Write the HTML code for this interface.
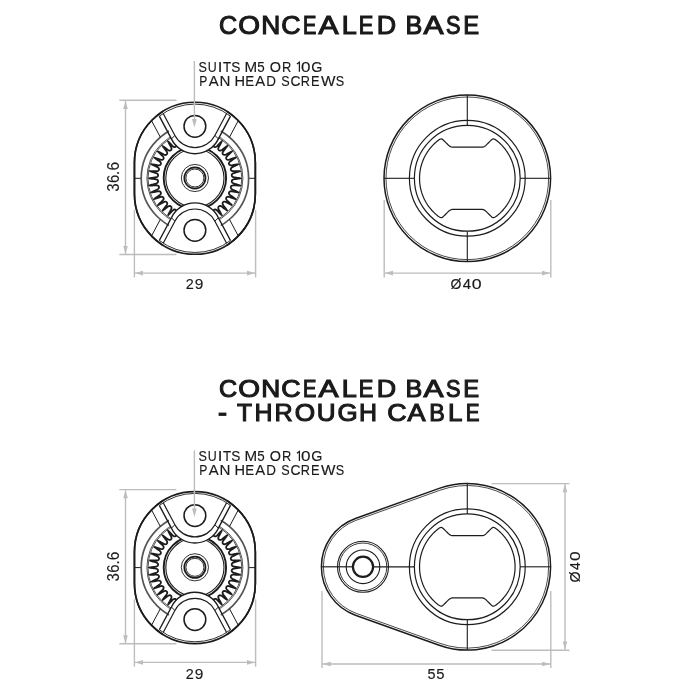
<!DOCTYPE html>
<html><head><meta charset="utf-8"><style>
html,body{margin:0;padding:0;background:#fff;}
svg{display:block;font-family:"Liberation Sans",sans-serif;}
</style></head><body>
<svg width="700" height="700" viewBox="0 0 700 700">
<rect width="700" height="700" fill="#fff"/>
<g transform="translate(194.9 178.3)"><path d="M-60.45 -15.55 A60.45 60.45 0 0 1 60.45 -15.55 L60.45 15.55 A60.45 60.45 0 0 1 -60.45 15.55 Z" fill="#fff" stroke="#1c1c1c" stroke-width="1.7"/><line x1="-60.45" y1="0" x2="-53.7" y2="0" stroke="#1c1c1c" stroke-width="1.0"/><line x1="60.45" y1="0" x2="53.7" y2="0" stroke="#1c1c1c" stroke-width="1.0"/><circle cx="0" cy="0" r="53.7" fill="none" stroke="#555" stroke-width="1.7"/><circle cx="0" cy="0" r="48" fill="none" stroke="#555" stroke-width="1.0"/><circle cx="0" cy="0" r="46.9" fill="none" stroke="#555" stroke-width="1.0"/><path d="M45.46 0 L45.13 0.12 L44.42 0.25 L43.63 0.36 L42.84 0.48 L42.04 0.59 L41.25 0.69 L40.46 0.79 L39.66 0.89 L38.87 1.01 L38.12 1.23 L37.47 1.63 L37.01 2.22 L36.81 2.94 L36.93 3.68 L37.32 4.32 L37.92 4.79 L38.64 5.11 L39.4 5.35 L40.17 5.57 L40.94 5.79 L41.7 6.02 L42.47 6.25 L43.23 6.49 L43.99 6.73 L44.65 6.96 L44.88 7.12 L44.48 7.19 L43.74 7.19 L42.94 7.18 L42.14 7.17 L41.34 7.15 L40.54 7.13 L39.74 7.11 L38.94 7.08 L38.15 7.08 L37.38 7.2 L36.68 7.52 L36.16 8.05 L35.88 8.74 L35.92 9.49 L36.23 10.17 L36.77 10.72 L37.44 11.14 L38.16 11.49 L38.88 11.82 L39.61 12.17 L40.33 12.51 L41.05 12.86 L41.77 13.21 L42.47 13.57 L43.07 13.89 L43.2 14.07 L42.74 14.05 L41.99 13.93 L41.2 13.8 L40.41 13.66 L39.63 13.52 L38.84 13.37 L38.05 13.22 L37.27 13.07 L36.48 12.96 L35.7 12.97 L34.98 13.2 L34.4 13.67 L34.05 14.33 L34 15.08 L34.24 15.79 L34.7 16.4 L35.31 16.91 L35.97 17.36 L36.63 17.81 L37.29 18.26 L37.95 18.72 L38.6 19.18 L39.26 19.64 L39.9 20.1 L40.4 20.49 L40.44 20.65 L39.94 20.54 L39.21 20.3 L38.45 20.04 L37.69 19.78 L36.94 19.52 L36.18 19.25 L35.43 18.98 L34.68 18.71 L33.92 18.48 L33.15 18.4 L32.4 18.54 L31.77 18.94 L31.35 19.56 L31.22 20.29 L31.37 21.03 L31.76 21.7 L32.29 22.29 L32.87 22.84 L33.46 23.38 L34.04 23.93 L34.62 24.49 L35.19 25.04 L35.77 25.6 L36.32 26.15 L36.73 26.6 L36.68 26.72 L36.16 26.5 L35.47 26.14 L34.76 25.77 L34.06 25.4 L33.35 25.02 L32.65 24.63 L31.95 24.25 L31.25 23.86 L30.53 23.53 L29.78 23.34 L29.02 23.4 L28.35 23.73 L27.87 24.3 L27.65 25.01 L27.72 25.77 L28.02 26.48 L28.46 27.14 L28.95 27.77 L29.44 28.4 L29.93 29.04 L30.42 29.67 L30.9 30.31 L31.38 30.95 L31.83 31.58 L32.13 32.05 L32.01 32.11 L31.5 31.78 L30.87 31.32 L30.23 30.84 L29.59 30.36 L28.96 29.87 L28.32 29.38 L27.69 28.89 L27.06 28.4 L26.39 27.97 L25.67 27.7 L24.92 27.66 L24.21 27.91 L23.67 28.42 L23.38 29.11 L23.36 29.87 L23.57 30.62 L23.91 31.33 L24.29 32.04 L24.68 32.74 L25.06 33.44 L25.44 34.14 L25.82 34.85 L26.19 35.56 L26.53 36.24 L26.73 36.72 L26.56 36.69 L26.08 36.26 L25.53 35.7 L24.97 35.12 L24.42 34.55 L23.86 33.97 L23.32 33.38 L22.77 32.8 L22.22 32.22 L21.62 31.7 L20.94 31.34 L20.2 31.22 L19.47 31.39 L18.88 31.84 L18.51 32.49 L18.4 33.24 L18.51 34.02 L18.74 34.77 L19.01 35.53 L19.29 36.28 L19.55 37.03 L19.82 37.79 L20.08 38.55 L20.33 39.3 L20.56 40.02 L20.65 40.47 L20.45 40.36 L20.04 39.82 L19.58 39.18 L19.12 38.52 L18.66 37.87 L18.21 37.21 L17.76 36.55 L17.31 35.88 L16.85 35.23 L16.33 34.64 L15.71 34.19 L14.98 33.99 L14.24 34.08 L13.6 34.46 L13.16 35.06 L12.96 35.8 L12.97 36.58 L13.09 37.37 L13.24 38.15 L13.39 38.94 L13.54 39.72 L13.68 40.51 L13.82 41.3 L13.95 42.09 L14.06 42.82 L14.06 43.22 L13.86 43.01 L13.53 42.39 L13.17 41.68 L12.82 40.96 L12.47 40.24 L12.12 39.52 L11.78 38.79 L11.44 38.07 L11.09 37.35 L10.66 36.7 L10.09 36.18 L9.4 35.89 L8.65 35.9 L7.98 36.21 L7.47 36.76 L7.18 37.47 L7.08 38.25 L7.08 39.04 L7.11 39.84 L7.14 40.64 L7.16 41.44 L7.17 42.24 L7.19 43.04 L7.19 43.84 L7.18 44.56 L7.11 44.9 L6.93 44.58 L6.7 43.9 L6.46 43.14 L6.23 42.37 L5.99 41.61 L5.77 40.84 L5.54 40.07 L5.32 39.3 L5.08 38.54 L4.74 37.84 L4.24 37.26 L3.59 36.9 L2.85 36.82 L2.14 37.05 L1.57 37.54 L1.19 38.21 L0.99 38.97 L0.88 39.76 L0.78 40.55 L0.68 41.35 L0.57 42.14 L0.46 42.93 L0.35 43.73 L0.23 44.51 L0.11 45.2 L-0.02 45.45 L-0.14 45.05 L-0.26 44.32 L-0.38 43.53 L-0.49 42.74 L-0.6 41.94 L-0.7 41.15 L-0.8 40.36 L-0.9 39.56 L-1.03 38.78 L-1.27 38.03 L-1.69 37.4 L-2.31 36.97 L-3.03 36.81 L-3.76 36.96 L-4.39 37.39 L-4.84 38.01 L-5.14 38.73 L-5.38 39.5 L-5.6 40.26 L-5.82 41.03 L-6.05 41.8 L-6.28 42.56 L-6.52 43.33 L-6.76 44.08 L-6.99 44.71 L-7.14 44.87 L-7.19 44.4 L-7.19 43.64 L-7.18 42.84 L-7.17 42.04 L-7.15 41.24 L-7.13 40.44 L-7.1 39.64 L-7.08 38.84 L-7.09 38.05 L-7.23 37.28 L-7.57 36.61 L-8.13 36.11 L-8.84 35.87 L-9.58 35.94 L-10.25 36.29 L-10.78 36.85 L-11.18 37.53 L-11.53 38.25 L-11.87 38.97 L-12.21 39.7 L-12.55 40.42 L-12.9 41.14 L-13.26 41.86 L-13.61 42.56 L-13.92 43.11 L-14.07 43.17 L-14.03 42.65 L-13.91 41.89 L-13.78 41.1 L-13.64 40.32 L-13.5 39.53 L-13.35 38.74 L-13.2 37.96 L-13.05 37.17 L-12.95 36.38 L-12.99 35.61 L-13.25 34.9 L-13.75 34.34 L-14.42 34.03 L-15.17 34.01 L-15.88 34.28 L-16.47 34.77 L-16.97 35.39 L-17.42 36.05 L-17.87 36.71 L-18.32 37.37 L-18.77 38.03 L-19.23 38.69 L-19.7 39.34 L-20.15 39.97 L-20.53 40.44 L-20.65 40.41 L-20.51 39.85 L-20.27 39.11 L-20.01 38.36 L-19.75 37.6 L-19.49 36.84 L-19.22 36.09 L-18.95 35.34 L-18.68 34.59 L-18.46 33.82 L-18.4 33.05 L-18.58 32.32 L-19.01 31.71 L-19.65 31.32 L-20.39 31.22 L-21.12 31.41 L-21.78 31.82 L-22.36 32.37 L-22.91 32.95 L-23.45 33.53 L-24 34.11 L-24.56 34.69 L-25.11 35.27 L-25.67 35.84 L-26.22 36.39 L-26.64 36.75 L-26.71 36.64 L-26.45 36.08 L-26.1 35.38 L-25.72 34.67 L-25.35 33.97 L-24.97 33.26 L-24.58 32.56 L-24.2 31.86 L-23.82 31.16 L-23.5 30.44 L-23.34 29.68 L-23.43 28.93 L-23.79 28.28 L-24.38 27.83 L-25.11 27.65 L-25.86 27.74 L-26.56 28.07 L-27.22 28.52 L-27.85 29.01 L-28.48 29.5 L-29.11 29.99 L-29.75 30.48 L-30.39 30.96 L-31.03 31.43 L-31.65 31.88 L-32.09 32.14 L-32.09 31.96 L-31.72 31.43 L-31.26 30.79 L-30.78 30.15 L-30.3 29.51 L-29.81 28.88 L-29.32 28.24 L-28.83 27.61 L-28.35 26.98 L-27.93 26.31 L-27.68 25.58 L-27.68 24.82 L-27.96 24.14 L-28.5 23.62 L-29.21 23.36 L-29.97 23.37 L-30.71 23.6 L-31.42 23.96 L-32.12 24.34 L-32.82 24.73 L-33.53 25.11 L-34.23 25.49 L-34.94 25.86 L-35.65 26.23 L-36.32 26.57 L-36.75 26.73 L-36.66 26.51 L-36.19 26.02 L-35.62 25.46 L-35.05 24.9 L-34.47 24.35 L-33.89 23.8 L-33.31 23.25 L-32.73 22.7 L-32.15 22.15 L-31.65 21.54 L-31.31 20.85 L-31.23 20.1 L-31.43 19.39 L-31.91 18.82 L-32.58 18.48 L-33.34 18.4 L-34.11 18.53 L-34.87 18.78 L-35.62 19.05 L-36.37 19.32 L-37.13 19.59 L-37.88 19.85 L-38.64 20.11 L-39.4 20.36 L-40.1 20.58 L-40.49 20.64 L-40.3 20.41 L-39.74 19.98 L-39.1 19.52 L-38.44 19.06 L-37.78 18.6 L-37.13 18.15 L-36.46 17.7 L-35.8 17.25 L-35.15 16.79 L-34.57 16.26 L-34.15 15.62 L-33.98 14.89 L-34.11 14.15 L-34.52 13.53 L-35.15 13.12 L-35.9 12.95 L-36.68 12.98 L-37.46 13.11 L-38.25 13.26 L-39.04 13.41 L-39.82 13.55 L-40.61 13.7 L-41.4 13.83 L-42.18 13.96 L-42.89 14.07 L-43.23 14.04 L-42.94 13.82 L-42.3 13.48 L-41.59 13.13 L-40.87 12.77 L-40.15 12.42 L-39.43 12.08 L-38.7 11.74 L-37.98 11.4 L-37.27 11.04 L-36.62 10.6 L-36.13 10.01 L-35.88 9.3 L-35.92 8.56 L-36.27 7.9 L-36.84 7.42 L-37.56 7.16 L-38.35 7.08 L-39.14 7.09 L-39.94 7.12 L-40.74 7.14 L-41.54 7.16 L-42.34 7.18 L-43.14 7.19 L-43.94 7.19 L-44.63 7.18 L-44.89 7.09 L-44.51 6.91 L-43.8 6.67 L-43.04 6.43 L-42.28 6.2 L-41.51 5.97 L-40.74 5.74 L-39.98 5.52 L-39.21 5.29 L-38.45 5.04 L-37.76 4.69 L-37.2 4.17 L-36.87 3.5 L-36.83 2.75 L-37.1 2.06 L-37.62 1.51 L-38.3 1.16 L-39.07 0.98 L-39.86 0.87 L-40.65 0.77 L-41.45 0.67 L-42.24 0.56 L-43.03 0.45 L-43.83 0.34 L-44.61 0.22 L-45.26 0.09 L-45.43 -0.03 L-44.97 -0.16 L-44.22 -0.28 L-43.43 -0.39 L-42.64 -0.51 L-41.84 -0.61 L-41.05 -0.72 L-40.26 -0.82 L-39.46 -0.92 L-38.68 -1.05 L-37.95 -1.31 L-37.33 -1.76 L-36.93 -2.39 L-36.81 -3.13 L-37 -3.85 L-37.45 -4.45 L-38.09 -4.89 L-38.83 -5.18 L-39.59 -5.41 L-40.36 -5.63 L-41.13 -5.85 L-41.89 -6.08 L-42.66 -6.31 L-43.42 -6.55 L-44.17 -6.79 L-44.77 -7.01 L-44.84 -7.15 L-44.31 -7.19 L-43.54 -7.19 L-42.74 -7.18 L-41.94 -7.17 L-41.14 -7.15 L-40.34 -7.13 L-39.54 -7.1 L-38.74 -7.08 L-37.95 -7.1 L-37.19 -7.26 L-36.53 -7.63 L-36.06 -8.21 L-35.86 -8.93 L-35.97 -9.67 L-36.35 -10.32 L-36.93 -10.83 L-37.62 -11.23 L-38.34 -11.57 L-39.06 -11.91 L-39.79 -12.25 L-40.51 -12.6 L-41.23 -12.95 L-41.95 -13.3 L-42.64 -13.66 L-43.16 -13.95 L-43.14 -14.08 L-42.56 -14.02 L-41.79 -13.9 L-41 -13.76 L-40.22 -13.63 L-39.43 -13.48 L-38.64 -13.33 L-37.86 -13.18 L-37.07 -13.04 L-36.29 -12.94 L-35.51 -13 L-34.82 -13.3 L-34.28 -13.82 L-34.01 -14.51 L-34.03 -15.26 L-34.33 -15.96 L-34.85 -16.54 L-35.47 -17.02 L-36.13 -17.48 L-36.79 -17.92 L-37.46 -18.38 L-38.11 -18.83 L-38.77 -19.29 L-39.42 -19.75 L-40.05 -20.21 L-40.47 -20.56 L-40.36 -20.65 L-39.76 -20.48 L-39.02 -20.24 L-38.26 -19.98 L-37.51 -19.72 L-36.75 -19.45 L-36 -19.18 L-35.24 -18.91 L-34.49 -18.65 L-33.73 -18.44 L-32.96 -18.41 L-32.23 -18.62 L-31.64 -19.08 L-31.29 -19.74 L-31.23 -20.48 L-31.45 -21.21 L-31.89 -21.85 L-32.44 -22.43 L-33.02 -22.97 L-33.6 -23.52 L-34.18 -24.07 L-34.76 -24.62 L-35.34 -25.18 L-35.91 -25.74 L-36.45 -26.28 L-36.77 -26.67 L-36.58 -26.69 L-35.99 -26.41 L-35.29 -26.05 L-34.59 -25.68 L-33.88 -25.3 L-33.18 -24.92 L-32.47 -24.54 L-31.77 -24.15 L-31.07 -23.77 L-30.34 -23.46 L-29.59 -23.33 L-28.84 -23.46 L-28.21 -23.85 L-27.79 -24.46 L-27.64 -25.2 L-27.77 -25.95 L-28.12 -26.65 L-28.58 -27.3 L-29.07 -27.93 L-29.57 -28.56 L-30.05 -29.19 L-30.54 -29.83 L-31.02 -30.47 L-31.49 -31.11 L-31.93 -31.72 L-32.15 -32.11 L-31.91 -32.05 L-31.35 -31.67 L-30.71 -31.2 L-30.07 -30.72 L-29.43 -30.23 L-28.8 -29.75 L-28.16 -29.26 L-27.53 -28.77 L-26.9 -28.29 L-26.22 -27.89 L-25.49 -27.66 L-24.73 -27.7 L-24.06 -28.02 L-23.58 -28.58 L-23.35 -29.3 L-23.39 -30.06 L-23.64 -30.8 L-24 -31.51 L-24.39 -32.21 L-24.78 -32.91 L-25.16 -33.62 L-25.54 -34.32 L-25.91 -35.03 L-26.28 -35.74 L-26.61 -36.39 L-26.72 -36.76 L-26.46 -36.61 L-25.95 -36.12 L-25.39 -35.55 L-24.83 -34.98 L-24.28 -34.4 L-23.73 -33.82 L-23.18 -33.24 L-22.63 -32.65 L-22.07 -32.09 L-21.46 -31.59 L-20.76 -31.29 L-20.01 -31.24 L-19.31 -31.48 L-18.76 -31.99 L-18.46 -32.67 L-18.4 -33.44 L-18.56 -34.21 L-18.81 -34.96 L-19.08 -35.71 L-19.35 -36.47 L-19.62 -37.22 L-19.88 -37.98 L-20.14 -38.74 L-20.39 -39.49 L-20.6 -40.17 L-20.63 -40.5 L-20.36 -40.25 L-19.93 -39.66 L-19.46 -39.01 L-19 -38.36 L-18.55 -37.7 L-18.09 -37.04 L-17.64 -36.38 L-17.2 -35.72 L-16.73 -35.07 L-16.19 -34.51 L-15.53 -34.12 L-14.79 -33.98 L-14.07 -34.15 L-13.47 -34.59 L-13.09 -35.24 L-12.94 -35.99 L-12.99 -36.78 L-13.13 -37.56 L-13.28 -38.35 L-13.43 -39.13 L-13.57 -39.92 L-13.71 -40.71 L-13.85 -41.5 L-13.98 -42.28 L-14.07 -42.96 L-14.02 -43.22 L-13.78 -42.87 L-13.44 -42.21 L-13.08 -41.5 L-12.73 -40.78 L-12.38 -40.06 L-12.04 -39.34 L-11.7 -38.61 L-11.36 -37.89 L-10.99 -37.18 L-10.53 -36.55 L-9.93 -36.08 L-9.21 -35.87 L-8.47 -35.95 L-7.83 -36.33 L-7.37 -36.93 L-7.14 -37.66 L-7.08 -38.45 L-7.09 -39.24 L-7.12 -40.04 L-7.14 -40.84 L-7.16 -41.64 L-7.18 -42.44 L-7.19 -43.24 L-7.19 -44.03 L-7.17 -44.7 L-7.07 -44.88 L-6.88 -44.43 L-6.64 -43.71 L-6.4 -42.95 L-6.17 -42.18 L-5.94 -41.42 L-5.71 -40.65 L-5.49 -39.88 L-5.26 -39.11 L-5.01 -38.36 L-4.64 -37.68 L-4.09 -37.14 L-3.4 -36.85 L-2.66 -36.85 L-1.98 -37.15 L-1.46 -37.7 L-1.13 -38.4 L-0.96 -39.17 L-0.85 -39.96 L-0.76 -40.75 L-0.65 -41.55 L-0.55 -42.34 L-0.44 -43.13 L-0.32 -43.92 L-0.2 -44.7 L-0.08 -45.32 L0.05 -45.4 L0.17 -44.88 L0.29 -44.12 L0.41 -43.33 L0.52 -42.54 L0.63 -41.75 L0.73 -40.95 L0.83 -40.16 L0.93 -39.36 L1.08 -38.59 L1.36 -37.86 L1.83 -37.27 L2.48 -36.9 L3.22 -36.82 L3.93 -37.04 L4.52 -37.53 L4.93 -38.18 L5.21 -38.92 L5.43 -39.69 L5.65 -40.46 L5.88 -41.22 L6.11 -41.99 L6.34 -42.76 L6.58 -43.52 L6.82 -44.26 L7.03 -44.81 L7.16 -44.8 L7.19 -44.22 L7.19 -43.44 L7.18 -42.64 L7.17 -41.84 L7.15 -41.04 L7.12 -40.24 L7.1 -39.44 L7.08 -38.64 L7.11 -37.85 L7.29 -37.1 L7.69 -36.46 L8.3 -36.02 L9.02 -35.86 L9.76 -36 L10.4 -36.41 L10.89 -37.01 L11.27 -37.71 L11.61 -38.43 L11.95 -39.15 L12.29 -39.88 L12.64 -40.6 L12.99 -41.32 L13.35 -42.03 L13.7 -42.72 L13.98 -43.19 L14.08 -43.08 L14.01 -42.47 L13.88 -41.69 L13.75 -40.91 L13.61 -40.12 L13.46 -39.33 L13.32 -38.54 L13.16 -37.76 L13.02 -36.97 L12.94 -36.19 L13.03 -35.42 L13.35 -34.74 L13.9 -34.23 L14.61 -33.99 L15.35 -34.06 L16.04 -34.39 L16.6 -34.92 L17.08 -35.55 L17.53 -36.22 L17.98 -36.88 L18.43 -37.54 L18.89 -38.2 L19.35 -38.85 L19.81 -39.5 L20.26 -40.12 L20.59 -40.49 L20.64 -40.3 L20.45 -39.67 L20.2 -38.92 L19.95 -38.17 L19.69 -37.41 L19.42 -36.66 L19.15 -35.9 L18.88 -35.15 L18.62 -34.4 L18.43 -33.63 L18.42 -32.86 L18.66 -32.15 L19.15 -31.58 L19.83 -31.27 L20.58 -31.25 L21.3 -31.5 L21.93 -31.95 L22.5 -32.51 L23.04 -33.09 L23.59 -33.68 L24.14 -34.26 L24.69 -34.83 L25.25 -35.41 L25.81 -35.98 L26.34 -36.51 L26.69 -36.78 L26.66 -36.53 L26.37 -35.91 L26 -35.2 L25.63 -34.5 L25.25 -33.79 L24.87 -33.09 L24.49 -32.39 L24.1 -31.69 L23.73 -30.98 L23.44 -30.25 L23.34 -29.49 L23.49 -28.75 L23.92 -28.14 L24.55 -27.75 L25.3 -27.65 L26.04 -27.81 L26.73 -28.18 L27.38 -28.64 L28.01 -29.14 L28.64 -29.63 L29.27 -30.11 L29.91 -30.6 L30.55 -31.08 L31.19 -31.55 L31.79 -31.98 L32.13 -32.14 L32.02 -31.85 L31.61 -31.27 L31.14 -30.63 L30.66 -29.99 L30.17 -29.35 L29.69 -28.72 L29.2 -28.09 L28.71 -27.45 L28.23 -26.81 L27.84 -26.13 L27.65 -25.39 L27.72 -24.64 L28.08 -23.99 L28.67 -23.53 L29.39 -23.34 L30.16 -23.41 L30.89 -23.68 L31.6 -24.05 L32.3 -24.44 L33 -24.82 L33.7 -25.21 L34.41 -25.58 L35.12 -25.96 L35.82 -26.32 L36.46 -26.64 L36.78 -26.71 L36.56 -26.4 L36.05 -25.88 L35.48 -25.32 L34.91 -24.76 L34.33 -24.21 L33.75 -23.66 L33.17 -23.11 L32.58 -22.56 L32.02 -22 L31.54 -21.38 L31.26 -20.67 L31.25 -19.92 L31.53 -19.23 L32.07 -18.71 L32.77 -18.44 L33.53 -18.42 L34.3 -18.59 L35.06 -18.84 L35.81 -19.12 L36.56 -19.39 L37.32 -19.65 L38.07 -19.92 L38.83 -20.17 L39.58 -20.42 L40.24 -20.62 L40.5 -20.61 L40.18 -20.31 L39.58 -19.87 L38.93 -19.41 L38.28 -18.95 L37.62 -18.49 L36.96 -18.04 L36.3 -17.59 L35.64 -17.14 L35 -16.67 L34.45 -16.11 L34.08 -15.44 L33.99 -14.7 L34.19 -13.98 L34.66 -13.41 L35.33 -13.06 L36.09 -12.94 L36.88 -13 L37.66 -13.14 L38.45 -13.3 L39.23 -13.45 L40.02 -13.59 L40.81 -13.73 L41.6 -13.87 L42.38 -13.99 L43.03 -14.08 L43.21 -14.01 L42.8 -13.74 L42.12 -13.39 L41.41 -13.04 L40.69 -12.69 L39.97 -12.34 L39.25 -11.99 L38.52 -11.65 L37.8 -11.31 L37.1 -10.94 L36.48 -10.47 L36.04 -9.84 L35.86 -9.12 L35.98 -8.38 L36.39 -7.76 L37.01 -7.33 L37.76 -7.12 L38.55 -7.08 L39.34 -7.09 L40.14 -7.12 L40.94 -7.14 L41.74 -7.16 L42.54 -7.18 L43.34 -7.19 L44.13 -7.19 L44.75 -7.17 L44.85 -7.05 L44.35 -6.85 L43.61 -6.61 L42.85 -6.37 L42.09 -6.14 L41.32 -5.91 L40.55 -5.68 L39.78 -5.46 L39.02 -5.24 L38.27 -4.97 L37.6 -4.58 L37.09 -4.01 L36.83 -3.31 L36.87 -2.57 L37.21 -1.9 L37.78 -1.4 L38.49 -1.1 L39.27 -0.95 L40.06 -0.84 L40.85 -0.74 L41.65 -0.64 L42.44 -0.53 L43.23 -0.42 L44.02 -0.31 L44.79 -0.19 L45.37 -0.06 Z" fill="none" stroke="#1c1c1c" stroke-width="1.8"/><circle cx="0" cy="-0.2" r="31.2" fill="none" stroke="#1c1c1c" stroke-width="1.9"/><circle cx="0" cy="-0.2" r="29.1" fill="none" stroke="#1c1c1c" stroke-width="1.1"/><circle cx="0" cy="-0.3" r="13.6" fill="none" stroke="#1c1c1c" stroke-width="0.9"/><circle cx="0" cy="-0.3" r="10.6" fill="none" stroke="#1c1c1c" stroke-width="1.7"/><circle cx="0" cy="-0.3" r="9" fill="none" stroke="#1c1c1c" stroke-width="0.9"/><g><path d="M-36.91 -84.68 L-23.48 -39.42 A26 26 0 0 0 23.48 -39.42 L36.91 -84.68 Z" fill="#fff" stroke="none"/><path d="M-31.7 -64.89 L-19.99 -42.87 A22.5 22.5 0 0 0 19.99 -42.87 L31.7 -64.89" fill="none" stroke="#1c1c1c" stroke-width="1.2"/><path d="M-35.58 -62.17 L-23.48 -39.42 A26 26 0 0 0 23.48 -39.42 L35.58 -62.17" fill="none" stroke="#1c1c1c" stroke-width="1.4"/><line x1="-19.99" y1="-42.87" x2="-23.48" y2="-39.42" stroke="#1c1c1c" stroke-width="1.0"/><line x1="19.99" y1="-42.87" x2="23.48" y2="-39.42" stroke="#1c1c1c" stroke-width="1.0"/><line x1="-43.37" y1="-57.66" x2="-34.57" y2="-41.1" stroke="#1c1c1c" stroke-width="1.0"/><line x1="43.37" y1="-57.66" x2="34.57" y2="-41.1" stroke="#1c1c1c" stroke-width="1.0"/><circle cx="0" cy="-52" r="10.9" fill="none" stroke="#1c1c1c" stroke-width="1.5"/></g><g transform="scale(1 -1)"><path d="M-36.91 -84.68 L-23.48 -39.42 A26 26 0 0 0 23.48 -39.42 L36.91 -84.68 Z" fill="#fff" stroke="none"/><path d="M-31.7 -64.89 L-19.99 -42.87 A22.5 22.5 0 0 0 19.99 -42.87 L31.7 -64.89" fill="none" stroke="#1c1c1c" stroke-width="1.2"/><path d="M-35.58 -62.17 L-23.48 -39.42 A26 26 0 0 0 23.48 -39.42 L35.58 -62.17" fill="none" stroke="#1c1c1c" stroke-width="1.4"/><line x1="-19.99" y1="-42.87" x2="-23.48" y2="-39.42" stroke="#1c1c1c" stroke-width="1.0"/><line x1="19.99" y1="-42.87" x2="23.48" y2="-39.42" stroke="#1c1c1c" stroke-width="1.0"/><line x1="-43.37" y1="-57.66" x2="-34.57" y2="-41.1" stroke="#1c1c1c" stroke-width="1.0"/><line x1="43.37" y1="-57.66" x2="34.57" y2="-41.1" stroke="#1c1c1c" stroke-width="1.0"/><circle cx="0" cy="-52" r="10.9" fill="none" stroke="#1c1c1c" stroke-width="1.5"/></g><path d="M-35.58 -62.17 A58.65 58.65 0 0 1 35.58 -62.17" fill="none" stroke="#1c1c1c" stroke-width="0.9"/><path d="M-35.58 -62.17 A58.65 58.65 0 0 1 35.58 -62.17" transform="scale(1 -1)" fill="none" stroke="#1c1c1c" stroke-width="0.9"/><path d="M-60.45 -15.55 A60.45 60.45 0 0 1 60.45 -15.55 L60.45 15.55 A60.45 60.45 0 0 1 -60.45 15.55 Z" fill="none" stroke="#1c1c1c" stroke-width="1.6"/></g><line x1="119.3" y1="100.3" x2="176.4" y2="100.3" stroke="#bdbdbd" stroke-width="1.4"/><line x1="119.3" y1="254.5" x2="176.4" y2="254.5" stroke="#bdbdbd" stroke-width="1.4"/><line x1="125.5" y1="101" x2="125.5" y2="254" stroke="#bdbdbd" stroke-width="1.4"/><path d="M125.5 101 L127.8 109 L123.2 109 Z" fill="#bdbdbd"/><path d="M125.5 254 L123.2 246 L127.8 246 Z" fill="#bdbdbd"/><line x1="134.4" y1="210" x2="134.4" y2="277.4" stroke="#bdbdbd" stroke-width="1.4"/><line x1="255.6" y1="210" x2="255.6" y2="277.4" stroke="#bdbdbd" stroke-width="1.4"/><line x1="135" y1="273.1" x2="255" y2="273.1" stroke="#bdbdbd" stroke-width="1.4"/><path d="M135 273.1 L143 270.8 L143 275.4 Z" fill="#bdbdbd"/><path d="M255 273.1 L247 275.4 L247 270.8 Z" fill="#bdbdbd"/><line x1="194.4" y1="61" x2="194.4" y2="120" stroke="#bdbdbd" stroke-width="1.4"/><path d="M194.4 127.6 L192 119.1 L196.8 119.1 Z" fill="#bdbdbd"/><g transform="translate(194.9 567.6)"><path d="M-60.45 -15.55 A60.45 60.45 0 0 1 60.45 -15.55 L60.45 15.55 A60.45 60.45 0 0 1 -60.45 15.55 Z" fill="#fff" stroke="#1c1c1c" stroke-width="1.7"/><line x1="-60.45" y1="0" x2="-53.7" y2="0" stroke="#1c1c1c" stroke-width="1.0"/><line x1="60.45" y1="0" x2="53.7" y2="0" stroke="#1c1c1c" stroke-width="1.0"/><circle cx="0" cy="0" r="53.7" fill="none" stroke="#555" stroke-width="1.7"/><circle cx="0" cy="0" r="48" fill="none" stroke="#555" stroke-width="1.0"/><circle cx="0" cy="0" r="46.9" fill="none" stroke="#555" stroke-width="1.0"/><path d="M45.46 0 L45.13 0.12 L44.42 0.25 L43.63 0.36 L42.84 0.48 L42.04 0.59 L41.25 0.69 L40.46 0.79 L39.66 0.89 L38.87 1.01 L38.12 1.23 L37.47 1.63 L37.01 2.22 L36.81 2.94 L36.93 3.68 L37.32 4.32 L37.92 4.79 L38.64 5.11 L39.4 5.35 L40.17 5.57 L40.94 5.79 L41.7 6.02 L42.47 6.25 L43.23 6.49 L43.99 6.73 L44.65 6.96 L44.88 7.12 L44.48 7.19 L43.74 7.19 L42.94 7.18 L42.14 7.17 L41.34 7.15 L40.54 7.13 L39.74 7.11 L38.94 7.08 L38.15 7.08 L37.38 7.2 L36.68 7.52 L36.16 8.05 L35.88 8.74 L35.92 9.49 L36.23 10.17 L36.77 10.72 L37.44 11.14 L38.16 11.49 L38.88 11.82 L39.61 12.17 L40.33 12.51 L41.05 12.86 L41.77 13.21 L42.47 13.57 L43.07 13.89 L43.2 14.07 L42.74 14.05 L41.99 13.93 L41.2 13.8 L40.41 13.66 L39.63 13.52 L38.84 13.37 L38.05 13.22 L37.27 13.07 L36.48 12.96 L35.7 12.97 L34.98 13.2 L34.4 13.67 L34.05 14.33 L34 15.08 L34.24 15.79 L34.7 16.4 L35.31 16.91 L35.97 17.36 L36.63 17.81 L37.29 18.26 L37.95 18.72 L38.6 19.18 L39.26 19.64 L39.9 20.1 L40.4 20.49 L40.44 20.65 L39.94 20.54 L39.21 20.3 L38.45 20.04 L37.69 19.78 L36.94 19.52 L36.18 19.25 L35.43 18.98 L34.68 18.71 L33.92 18.48 L33.15 18.4 L32.4 18.54 L31.77 18.94 L31.35 19.56 L31.22 20.29 L31.37 21.03 L31.76 21.7 L32.29 22.29 L32.87 22.84 L33.46 23.38 L34.04 23.93 L34.62 24.49 L35.19 25.04 L35.77 25.6 L36.32 26.15 L36.73 26.6 L36.68 26.72 L36.16 26.5 L35.47 26.14 L34.76 25.77 L34.06 25.4 L33.35 25.02 L32.65 24.63 L31.95 24.25 L31.25 23.86 L30.53 23.53 L29.78 23.34 L29.02 23.4 L28.35 23.73 L27.87 24.3 L27.65 25.01 L27.72 25.77 L28.02 26.48 L28.46 27.14 L28.95 27.77 L29.44 28.4 L29.93 29.04 L30.42 29.67 L30.9 30.31 L31.38 30.95 L31.83 31.58 L32.13 32.05 L32.01 32.11 L31.5 31.78 L30.87 31.32 L30.23 30.84 L29.59 30.36 L28.96 29.87 L28.32 29.38 L27.69 28.89 L27.06 28.4 L26.39 27.97 L25.67 27.7 L24.92 27.66 L24.21 27.91 L23.67 28.42 L23.38 29.11 L23.36 29.87 L23.57 30.62 L23.91 31.33 L24.29 32.04 L24.68 32.74 L25.06 33.44 L25.44 34.14 L25.82 34.85 L26.19 35.56 L26.53 36.24 L26.73 36.72 L26.56 36.69 L26.08 36.26 L25.53 35.7 L24.97 35.12 L24.42 34.55 L23.86 33.97 L23.32 33.38 L22.77 32.8 L22.22 32.22 L21.62 31.7 L20.94 31.34 L20.2 31.22 L19.47 31.39 L18.88 31.84 L18.51 32.49 L18.4 33.24 L18.51 34.02 L18.74 34.77 L19.01 35.53 L19.29 36.28 L19.55 37.03 L19.82 37.79 L20.08 38.55 L20.33 39.3 L20.56 40.02 L20.65 40.47 L20.45 40.36 L20.04 39.82 L19.58 39.18 L19.12 38.52 L18.66 37.87 L18.21 37.21 L17.76 36.55 L17.31 35.88 L16.85 35.23 L16.33 34.64 L15.71 34.19 L14.98 33.99 L14.24 34.08 L13.6 34.46 L13.16 35.06 L12.96 35.8 L12.97 36.58 L13.09 37.37 L13.24 38.15 L13.39 38.94 L13.54 39.72 L13.68 40.51 L13.82 41.3 L13.95 42.09 L14.06 42.82 L14.06 43.22 L13.86 43.01 L13.53 42.39 L13.17 41.68 L12.82 40.96 L12.47 40.24 L12.12 39.52 L11.78 38.79 L11.44 38.07 L11.09 37.35 L10.66 36.7 L10.09 36.18 L9.4 35.89 L8.65 35.9 L7.98 36.21 L7.47 36.76 L7.18 37.47 L7.08 38.25 L7.08 39.04 L7.11 39.84 L7.14 40.64 L7.16 41.44 L7.17 42.24 L7.19 43.04 L7.19 43.84 L7.18 44.56 L7.11 44.9 L6.93 44.58 L6.7 43.9 L6.46 43.14 L6.23 42.37 L5.99 41.61 L5.77 40.84 L5.54 40.07 L5.32 39.3 L5.08 38.54 L4.74 37.84 L4.24 37.26 L3.59 36.9 L2.85 36.82 L2.14 37.05 L1.57 37.54 L1.19 38.21 L0.99 38.97 L0.88 39.76 L0.78 40.55 L0.68 41.35 L0.57 42.14 L0.46 42.93 L0.35 43.73 L0.23 44.51 L0.11 45.2 L-0.02 45.45 L-0.14 45.05 L-0.26 44.32 L-0.38 43.53 L-0.49 42.74 L-0.6 41.94 L-0.7 41.15 L-0.8 40.36 L-0.9 39.56 L-1.03 38.78 L-1.27 38.03 L-1.69 37.4 L-2.31 36.97 L-3.03 36.81 L-3.76 36.96 L-4.39 37.39 L-4.84 38.01 L-5.14 38.73 L-5.38 39.5 L-5.6 40.26 L-5.82 41.03 L-6.05 41.8 L-6.28 42.56 L-6.52 43.33 L-6.76 44.08 L-6.99 44.71 L-7.14 44.87 L-7.19 44.4 L-7.19 43.64 L-7.18 42.84 L-7.17 42.04 L-7.15 41.24 L-7.13 40.44 L-7.1 39.64 L-7.08 38.84 L-7.09 38.05 L-7.23 37.28 L-7.57 36.61 L-8.13 36.11 L-8.84 35.87 L-9.58 35.94 L-10.25 36.29 L-10.78 36.85 L-11.18 37.53 L-11.53 38.25 L-11.87 38.97 L-12.21 39.7 L-12.55 40.42 L-12.9 41.14 L-13.26 41.86 L-13.61 42.56 L-13.92 43.11 L-14.07 43.17 L-14.03 42.65 L-13.91 41.89 L-13.78 41.1 L-13.64 40.32 L-13.5 39.53 L-13.35 38.74 L-13.2 37.96 L-13.05 37.17 L-12.95 36.38 L-12.99 35.61 L-13.25 34.9 L-13.75 34.34 L-14.42 34.03 L-15.17 34.01 L-15.88 34.28 L-16.47 34.77 L-16.97 35.39 L-17.42 36.05 L-17.87 36.71 L-18.32 37.37 L-18.77 38.03 L-19.23 38.69 L-19.7 39.34 L-20.15 39.97 L-20.53 40.44 L-20.65 40.41 L-20.51 39.85 L-20.27 39.11 L-20.01 38.36 L-19.75 37.6 L-19.49 36.84 L-19.22 36.09 L-18.95 35.34 L-18.68 34.59 L-18.46 33.82 L-18.4 33.05 L-18.58 32.32 L-19.01 31.71 L-19.65 31.32 L-20.39 31.22 L-21.12 31.41 L-21.78 31.82 L-22.36 32.37 L-22.91 32.95 L-23.45 33.53 L-24 34.11 L-24.56 34.69 L-25.11 35.27 L-25.67 35.84 L-26.22 36.39 L-26.64 36.75 L-26.71 36.64 L-26.45 36.08 L-26.1 35.38 L-25.72 34.67 L-25.35 33.97 L-24.97 33.26 L-24.58 32.56 L-24.2 31.86 L-23.82 31.16 L-23.5 30.44 L-23.34 29.68 L-23.43 28.93 L-23.79 28.28 L-24.38 27.83 L-25.11 27.65 L-25.86 27.74 L-26.56 28.07 L-27.22 28.52 L-27.85 29.01 L-28.48 29.5 L-29.11 29.99 L-29.75 30.48 L-30.39 30.96 L-31.03 31.43 L-31.65 31.88 L-32.09 32.14 L-32.09 31.96 L-31.72 31.43 L-31.26 30.79 L-30.78 30.15 L-30.3 29.51 L-29.81 28.88 L-29.32 28.24 L-28.83 27.61 L-28.35 26.98 L-27.93 26.31 L-27.68 25.58 L-27.68 24.82 L-27.96 24.14 L-28.5 23.62 L-29.21 23.36 L-29.97 23.37 L-30.71 23.6 L-31.42 23.96 L-32.12 24.34 L-32.82 24.73 L-33.53 25.11 L-34.23 25.49 L-34.94 25.86 L-35.65 26.23 L-36.32 26.57 L-36.75 26.73 L-36.66 26.51 L-36.19 26.02 L-35.62 25.46 L-35.05 24.9 L-34.47 24.35 L-33.89 23.8 L-33.31 23.25 L-32.73 22.7 L-32.15 22.15 L-31.65 21.54 L-31.31 20.85 L-31.23 20.1 L-31.43 19.39 L-31.91 18.82 L-32.58 18.48 L-33.34 18.4 L-34.11 18.53 L-34.87 18.78 L-35.62 19.05 L-36.37 19.32 L-37.13 19.59 L-37.88 19.85 L-38.64 20.11 L-39.4 20.36 L-40.1 20.58 L-40.49 20.64 L-40.3 20.41 L-39.74 19.98 L-39.1 19.52 L-38.44 19.06 L-37.78 18.6 L-37.13 18.15 L-36.46 17.7 L-35.8 17.25 L-35.15 16.79 L-34.57 16.26 L-34.15 15.62 L-33.98 14.89 L-34.11 14.15 L-34.52 13.53 L-35.15 13.12 L-35.9 12.95 L-36.68 12.98 L-37.46 13.11 L-38.25 13.26 L-39.04 13.41 L-39.82 13.55 L-40.61 13.7 L-41.4 13.83 L-42.18 13.96 L-42.89 14.07 L-43.23 14.04 L-42.94 13.82 L-42.3 13.48 L-41.59 13.13 L-40.87 12.77 L-40.15 12.42 L-39.43 12.08 L-38.7 11.74 L-37.98 11.4 L-37.27 11.04 L-36.62 10.6 L-36.13 10.01 L-35.88 9.3 L-35.92 8.56 L-36.27 7.9 L-36.84 7.42 L-37.56 7.16 L-38.35 7.08 L-39.14 7.09 L-39.94 7.12 L-40.74 7.14 L-41.54 7.16 L-42.34 7.18 L-43.14 7.19 L-43.94 7.19 L-44.63 7.18 L-44.89 7.09 L-44.51 6.91 L-43.8 6.67 L-43.04 6.43 L-42.28 6.2 L-41.51 5.97 L-40.74 5.74 L-39.98 5.52 L-39.21 5.29 L-38.45 5.04 L-37.76 4.69 L-37.2 4.17 L-36.87 3.5 L-36.83 2.75 L-37.1 2.06 L-37.62 1.51 L-38.3 1.16 L-39.07 0.98 L-39.86 0.87 L-40.65 0.77 L-41.45 0.67 L-42.24 0.56 L-43.03 0.45 L-43.83 0.34 L-44.61 0.22 L-45.26 0.09 L-45.43 -0.03 L-44.97 -0.16 L-44.22 -0.28 L-43.43 -0.39 L-42.64 -0.51 L-41.84 -0.61 L-41.05 -0.72 L-40.26 -0.82 L-39.46 -0.92 L-38.68 -1.05 L-37.95 -1.31 L-37.33 -1.76 L-36.93 -2.39 L-36.81 -3.13 L-37 -3.85 L-37.45 -4.45 L-38.09 -4.89 L-38.83 -5.18 L-39.59 -5.41 L-40.36 -5.63 L-41.13 -5.85 L-41.89 -6.08 L-42.66 -6.31 L-43.42 -6.55 L-44.17 -6.79 L-44.77 -7.01 L-44.84 -7.15 L-44.31 -7.19 L-43.54 -7.19 L-42.74 -7.18 L-41.94 -7.17 L-41.14 -7.15 L-40.34 -7.13 L-39.54 -7.1 L-38.74 -7.08 L-37.95 -7.1 L-37.19 -7.26 L-36.53 -7.63 L-36.06 -8.21 L-35.86 -8.93 L-35.97 -9.67 L-36.35 -10.32 L-36.93 -10.83 L-37.62 -11.23 L-38.34 -11.57 L-39.06 -11.91 L-39.79 -12.25 L-40.51 -12.6 L-41.23 -12.95 L-41.95 -13.3 L-42.64 -13.66 L-43.16 -13.95 L-43.14 -14.08 L-42.56 -14.02 L-41.79 -13.9 L-41 -13.76 L-40.22 -13.63 L-39.43 -13.48 L-38.64 -13.33 L-37.86 -13.18 L-37.07 -13.04 L-36.29 -12.94 L-35.51 -13 L-34.82 -13.3 L-34.28 -13.82 L-34.01 -14.51 L-34.03 -15.26 L-34.33 -15.96 L-34.85 -16.54 L-35.47 -17.02 L-36.13 -17.48 L-36.79 -17.92 L-37.46 -18.38 L-38.11 -18.83 L-38.77 -19.29 L-39.42 -19.75 L-40.05 -20.21 L-40.47 -20.56 L-40.36 -20.65 L-39.76 -20.48 L-39.02 -20.24 L-38.26 -19.98 L-37.51 -19.72 L-36.75 -19.45 L-36 -19.18 L-35.24 -18.91 L-34.49 -18.65 L-33.73 -18.44 L-32.96 -18.41 L-32.23 -18.62 L-31.64 -19.08 L-31.29 -19.74 L-31.23 -20.48 L-31.45 -21.21 L-31.89 -21.85 L-32.44 -22.43 L-33.02 -22.97 L-33.6 -23.52 L-34.18 -24.07 L-34.76 -24.62 L-35.34 -25.18 L-35.91 -25.74 L-36.45 -26.28 L-36.77 -26.67 L-36.58 -26.69 L-35.99 -26.41 L-35.29 -26.05 L-34.59 -25.68 L-33.88 -25.3 L-33.18 -24.92 L-32.47 -24.54 L-31.77 -24.15 L-31.07 -23.77 L-30.34 -23.46 L-29.59 -23.33 L-28.84 -23.46 L-28.21 -23.85 L-27.79 -24.46 L-27.64 -25.2 L-27.77 -25.95 L-28.12 -26.65 L-28.58 -27.3 L-29.07 -27.93 L-29.57 -28.56 L-30.05 -29.19 L-30.54 -29.83 L-31.02 -30.47 L-31.49 -31.11 L-31.93 -31.72 L-32.15 -32.11 L-31.91 -32.05 L-31.35 -31.67 L-30.71 -31.2 L-30.07 -30.72 L-29.43 -30.23 L-28.8 -29.75 L-28.16 -29.26 L-27.53 -28.77 L-26.9 -28.29 L-26.22 -27.89 L-25.49 -27.66 L-24.73 -27.7 L-24.06 -28.02 L-23.58 -28.58 L-23.35 -29.3 L-23.39 -30.06 L-23.64 -30.8 L-24 -31.51 L-24.39 -32.21 L-24.78 -32.91 L-25.16 -33.62 L-25.54 -34.32 L-25.91 -35.03 L-26.28 -35.74 L-26.61 -36.39 L-26.72 -36.76 L-26.46 -36.61 L-25.95 -36.12 L-25.39 -35.55 L-24.83 -34.98 L-24.28 -34.4 L-23.73 -33.82 L-23.18 -33.24 L-22.63 -32.65 L-22.07 -32.09 L-21.46 -31.59 L-20.76 -31.29 L-20.01 -31.24 L-19.31 -31.48 L-18.76 -31.99 L-18.46 -32.67 L-18.4 -33.44 L-18.56 -34.21 L-18.81 -34.96 L-19.08 -35.71 L-19.35 -36.47 L-19.62 -37.22 L-19.88 -37.98 L-20.14 -38.74 L-20.39 -39.49 L-20.6 -40.17 L-20.63 -40.5 L-20.36 -40.25 L-19.93 -39.66 L-19.46 -39.01 L-19 -38.36 L-18.55 -37.7 L-18.09 -37.04 L-17.64 -36.38 L-17.2 -35.72 L-16.73 -35.07 L-16.19 -34.51 L-15.53 -34.12 L-14.79 -33.98 L-14.07 -34.15 L-13.47 -34.59 L-13.09 -35.24 L-12.94 -35.99 L-12.99 -36.78 L-13.13 -37.56 L-13.28 -38.35 L-13.43 -39.13 L-13.57 -39.92 L-13.71 -40.71 L-13.85 -41.5 L-13.98 -42.28 L-14.07 -42.96 L-14.02 -43.22 L-13.78 -42.87 L-13.44 -42.21 L-13.08 -41.5 L-12.73 -40.78 L-12.38 -40.06 L-12.04 -39.34 L-11.7 -38.61 L-11.36 -37.89 L-10.99 -37.18 L-10.53 -36.55 L-9.93 -36.08 L-9.21 -35.87 L-8.47 -35.95 L-7.83 -36.33 L-7.37 -36.93 L-7.14 -37.66 L-7.08 -38.45 L-7.09 -39.24 L-7.12 -40.04 L-7.14 -40.84 L-7.16 -41.64 L-7.18 -42.44 L-7.19 -43.24 L-7.19 -44.03 L-7.17 -44.7 L-7.07 -44.88 L-6.88 -44.43 L-6.64 -43.71 L-6.4 -42.95 L-6.17 -42.18 L-5.94 -41.42 L-5.71 -40.65 L-5.49 -39.88 L-5.26 -39.11 L-5.01 -38.36 L-4.64 -37.68 L-4.09 -37.14 L-3.4 -36.85 L-2.66 -36.85 L-1.98 -37.15 L-1.46 -37.7 L-1.13 -38.4 L-0.96 -39.17 L-0.85 -39.96 L-0.76 -40.75 L-0.65 -41.55 L-0.55 -42.34 L-0.44 -43.13 L-0.32 -43.92 L-0.2 -44.7 L-0.08 -45.32 L0.05 -45.4 L0.17 -44.88 L0.29 -44.12 L0.41 -43.33 L0.52 -42.54 L0.63 -41.75 L0.73 -40.95 L0.83 -40.16 L0.93 -39.36 L1.08 -38.59 L1.36 -37.86 L1.83 -37.27 L2.48 -36.9 L3.22 -36.82 L3.93 -37.04 L4.52 -37.53 L4.93 -38.18 L5.21 -38.92 L5.43 -39.69 L5.65 -40.46 L5.88 -41.22 L6.11 -41.99 L6.34 -42.76 L6.58 -43.52 L6.82 -44.26 L7.03 -44.81 L7.16 -44.8 L7.19 -44.22 L7.19 -43.44 L7.18 -42.64 L7.17 -41.84 L7.15 -41.04 L7.12 -40.24 L7.1 -39.44 L7.08 -38.64 L7.11 -37.85 L7.29 -37.1 L7.69 -36.46 L8.3 -36.02 L9.02 -35.86 L9.76 -36 L10.4 -36.41 L10.89 -37.01 L11.27 -37.71 L11.61 -38.43 L11.95 -39.15 L12.29 -39.88 L12.64 -40.6 L12.99 -41.32 L13.35 -42.03 L13.7 -42.72 L13.98 -43.19 L14.08 -43.08 L14.01 -42.47 L13.88 -41.69 L13.75 -40.91 L13.61 -40.12 L13.46 -39.33 L13.32 -38.54 L13.16 -37.76 L13.02 -36.97 L12.94 -36.19 L13.03 -35.42 L13.35 -34.74 L13.9 -34.23 L14.61 -33.99 L15.35 -34.06 L16.04 -34.39 L16.6 -34.92 L17.08 -35.55 L17.53 -36.22 L17.98 -36.88 L18.43 -37.54 L18.89 -38.2 L19.35 -38.85 L19.81 -39.5 L20.26 -40.12 L20.59 -40.49 L20.64 -40.3 L20.45 -39.67 L20.2 -38.92 L19.95 -38.17 L19.69 -37.41 L19.42 -36.66 L19.15 -35.9 L18.88 -35.15 L18.62 -34.4 L18.43 -33.63 L18.42 -32.86 L18.66 -32.15 L19.15 -31.58 L19.83 -31.27 L20.58 -31.25 L21.3 -31.5 L21.93 -31.95 L22.5 -32.51 L23.04 -33.09 L23.59 -33.68 L24.14 -34.26 L24.69 -34.83 L25.25 -35.41 L25.81 -35.98 L26.34 -36.51 L26.69 -36.78 L26.66 -36.53 L26.37 -35.91 L26 -35.2 L25.63 -34.5 L25.25 -33.79 L24.87 -33.09 L24.49 -32.39 L24.1 -31.69 L23.73 -30.98 L23.44 -30.25 L23.34 -29.49 L23.49 -28.75 L23.92 -28.14 L24.55 -27.75 L25.3 -27.65 L26.04 -27.81 L26.73 -28.18 L27.38 -28.64 L28.01 -29.14 L28.64 -29.63 L29.27 -30.11 L29.91 -30.6 L30.55 -31.08 L31.19 -31.55 L31.79 -31.98 L32.13 -32.14 L32.02 -31.85 L31.61 -31.27 L31.14 -30.63 L30.66 -29.99 L30.17 -29.35 L29.69 -28.72 L29.2 -28.09 L28.71 -27.45 L28.23 -26.81 L27.84 -26.13 L27.65 -25.39 L27.72 -24.64 L28.08 -23.99 L28.67 -23.53 L29.39 -23.34 L30.16 -23.41 L30.89 -23.68 L31.6 -24.05 L32.3 -24.44 L33 -24.82 L33.7 -25.21 L34.41 -25.58 L35.12 -25.96 L35.82 -26.32 L36.46 -26.64 L36.78 -26.71 L36.56 -26.4 L36.05 -25.88 L35.48 -25.32 L34.91 -24.76 L34.33 -24.21 L33.75 -23.66 L33.17 -23.11 L32.58 -22.56 L32.02 -22 L31.54 -21.38 L31.26 -20.67 L31.25 -19.92 L31.53 -19.23 L32.07 -18.71 L32.77 -18.44 L33.53 -18.42 L34.3 -18.59 L35.06 -18.84 L35.81 -19.12 L36.56 -19.39 L37.32 -19.65 L38.07 -19.92 L38.83 -20.17 L39.58 -20.42 L40.24 -20.62 L40.5 -20.61 L40.18 -20.31 L39.58 -19.87 L38.93 -19.41 L38.28 -18.95 L37.62 -18.49 L36.96 -18.04 L36.3 -17.59 L35.64 -17.14 L35 -16.67 L34.45 -16.11 L34.08 -15.44 L33.99 -14.7 L34.19 -13.98 L34.66 -13.41 L35.33 -13.06 L36.09 -12.94 L36.88 -13 L37.66 -13.14 L38.45 -13.3 L39.23 -13.45 L40.02 -13.59 L40.81 -13.73 L41.6 -13.87 L42.38 -13.99 L43.03 -14.08 L43.21 -14.01 L42.8 -13.74 L42.12 -13.39 L41.41 -13.04 L40.69 -12.69 L39.97 -12.34 L39.25 -11.99 L38.52 -11.65 L37.8 -11.31 L37.1 -10.94 L36.48 -10.47 L36.04 -9.84 L35.86 -9.12 L35.98 -8.38 L36.39 -7.76 L37.01 -7.33 L37.76 -7.12 L38.55 -7.08 L39.34 -7.09 L40.14 -7.12 L40.94 -7.14 L41.74 -7.16 L42.54 -7.18 L43.34 -7.19 L44.13 -7.19 L44.75 -7.17 L44.85 -7.05 L44.35 -6.85 L43.61 -6.61 L42.85 -6.37 L42.09 -6.14 L41.32 -5.91 L40.55 -5.68 L39.78 -5.46 L39.02 -5.24 L38.27 -4.97 L37.6 -4.58 L37.09 -4.01 L36.83 -3.31 L36.87 -2.57 L37.21 -1.9 L37.78 -1.4 L38.49 -1.1 L39.27 -0.95 L40.06 -0.84 L40.85 -0.74 L41.65 -0.64 L42.44 -0.53 L43.23 -0.42 L44.02 -0.31 L44.79 -0.19 L45.37 -0.06 Z" fill="none" stroke="#1c1c1c" stroke-width="1.8"/><circle cx="0" cy="-0.2" r="31.2" fill="none" stroke="#1c1c1c" stroke-width="1.9"/><circle cx="0" cy="-0.2" r="29.1" fill="none" stroke="#1c1c1c" stroke-width="1.1"/><circle cx="0" cy="-0.3" r="13.6" fill="none" stroke="#1c1c1c" stroke-width="0.9"/><circle cx="0" cy="-0.3" r="10.6" fill="none" stroke="#1c1c1c" stroke-width="1.7"/><circle cx="0" cy="-0.3" r="9" fill="none" stroke="#1c1c1c" stroke-width="0.9"/><g><path d="M-36.91 -84.68 L-23.48 -39.42 A26 26 0 0 0 23.48 -39.42 L36.91 -84.68 Z" fill="#fff" stroke="none"/><path d="M-31.7 -64.89 L-19.99 -42.87 A22.5 22.5 0 0 0 19.99 -42.87 L31.7 -64.89" fill="none" stroke="#1c1c1c" stroke-width="1.2"/><path d="M-35.58 -62.17 L-23.48 -39.42 A26 26 0 0 0 23.48 -39.42 L35.58 -62.17" fill="none" stroke="#1c1c1c" stroke-width="1.4"/><line x1="-19.99" y1="-42.87" x2="-23.48" y2="-39.42" stroke="#1c1c1c" stroke-width="1.0"/><line x1="19.99" y1="-42.87" x2="23.48" y2="-39.42" stroke="#1c1c1c" stroke-width="1.0"/><line x1="-43.37" y1="-57.66" x2="-34.57" y2="-41.1" stroke="#1c1c1c" stroke-width="1.0"/><line x1="43.37" y1="-57.66" x2="34.57" y2="-41.1" stroke="#1c1c1c" stroke-width="1.0"/><circle cx="0" cy="-52" r="10.9" fill="none" stroke="#1c1c1c" stroke-width="1.5"/></g><g transform="scale(1 -1)"><path d="M-36.91 -84.68 L-23.48 -39.42 A26 26 0 0 0 23.48 -39.42 L36.91 -84.68 Z" fill="#fff" stroke="none"/><path d="M-31.7 -64.89 L-19.99 -42.87 A22.5 22.5 0 0 0 19.99 -42.87 L31.7 -64.89" fill="none" stroke="#1c1c1c" stroke-width="1.2"/><path d="M-35.58 -62.17 L-23.48 -39.42 A26 26 0 0 0 23.48 -39.42 L35.58 -62.17" fill="none" stroke="#1c1c1c" stroke-width="1.4"/><line x1="-19.99" y1="-42.87" x2="-23.48" y2="-39.42" stroke="#1c1c1c" stroke-width="1.0"/><line x1="19.99" y1="-42.87" x2="23.48" y2="-39.42" stroke="#1c1c1c" stroke-width="1.0"/><line x1="-43.37" y1="-57.66" x2="-34.57" y2="-41.1" stroke="#1c1c1c" stroke-width="1.0"/><line x1="43.37" y1="-57.66" x2="34.57" y2="-41.1" stroke="#1c1c1c" stroke-width="1.0"/><circle cx="0" cy="-52" r="10.9" fill="none" stroke="#1c1c1c" stroke-width="1.5"/></g><path d="M-35.58 -62.17 A58.65 58.65 0 0 1 35.58 -62.17" fill="none" stroke="#1c1c1c" stroke-width="0.9"/><path d="M-35.58 -62.17 A58.65 58.65 0 0 1 35.58 -62.17" transform="scale(1 -1)" fill="none" stroke="#1c1c1c" stroke-width="0.9"/><path d="M-60.45 -15.55 A60.45 60.45 0 0 1 60.45 -15.55 L60.45 15.55 A60.45 60.45 0 0 1 -60.45 15.55 Z" fill="none" stroke="#1c1c1c" stroke-width="1.6"/></g><line x1="119.3" y1="489.6" x2="176.4" y2="489.6" stroke="#bdbdbd" stroke-width="1.4"/><line x1="119.3" y1="643.8" x2="176.4" y2="643.8" stroke="#bdbdbd" stroke-width="1.4"/><line x1="125.5" y1="490.3" x2="125.5" y2="643.3" stroke="#bdbdbd" stroke-width="1.4"/><path d="M125.5 490.3 L127.8 498.3 L123.2 498.3 Z" fill="#bdbdbd"/><path d="M125.5 643.3 L123.2 635.3 L127.8 635.3 Z" fill="#bdbdbd"/><line x1="134.4" y1="599.3" x2="134.4" y2="666.7" stroke="#bdbdbd" stroke-width="1.4"/><line x1="255.6" y1="599.3" x2="255.6" y2="666.7" stroke="#bdbdbd" stroke-width="1.4"/><line x1="135" y1="662.4" x2="255" y2="662.4" stroke="#bdbdbd" stroke-width="1.4"/><path d="M135 662.4 L143 660.1 L143 664.7 Z" fill="#bdbdbd"/><path d="M255 662.4 L247 664.7 L247 660.1 Z" fill="#bdbdbd"/><line x1="194.4" y1="450.3" x2="194.4" y2="509.3" stroke="#bdbdbd" stroke-width="1.4"/><path d="M194.4 516.9 L192 508.4 L196.8 508.4 Z" fill="#bdbdbd"/><circle cx="467.3" cy="178.3" r="83.3" fill="none" stroke="#1c1c1c" stroke-width="1.5"/><circle cx="467.3" cy="178.3" r="81.3" fill="none" stroke="#1c1c1c" stroke-width="0.8"/><circle cx="467.3" cy="178.3" r="57.9" fill="none" stroke="#1c1c1c" stroke-width="1.2"/><circle cx="467.3" cy="178.3" r="52.9" fill="none" stroke="#1c1c1c" stroke-width="1.2"/><path d="M493.28 138.93 L494.06 139.01 L494.85 139.36 L495.66 139.87 L496.45 140.46 L497.24 141.07 L498.01 141.71 L498.77 142.36 L499.52 143.02 L500.25 143.71 L500.96 144.4 L501.67 145.12 L502.35 145.84 L503.03 146.58 L503.68 147.34 L504.32 148.11 L504.95 148.89 L505.55 149.68 L506.14 150.49 L506.72 151.31 L507.27 152.14 L507.81 152.98 L508.33 153.84 L508.84 154.7 L509.32 155.58 L509.79 156.46 L510.24 157.35 L510.67 158.26 L511.08 159.17 L511.47 160.09 L511.84 161.02 L512.19 161.95 L512.52 162.9 L512.83 163.85 L513.13 164.8 L513.4 165.77 L513.65 166.73 L513.88 167.71 L514.1 168.68 L514.29 169.67 L514.46 170.65 L514.61 171.64 L514.74 172.63 L514.84 173.63 L514.93 174.62 L515 175.62 L515.04 176.62 L515.07 177.62 L515.07 178.62 L515.05 179.62 L515.02 180.62 L514.96 181.62 L514.88 182.61 L514.78 183.61 L514.66 184.6 L514.51 185.59 L514.35 186.58 L514.17 187.56 L513.96 188.54 L513.74 189.52 L513.49 190.48 L513.23 191.45 L512.94 192.41 L512.64 193.36 L512.31 194.31 L511.97 195.24 L511.6 196.18 L511.22 197.1 L510.82 198.01 L510.39 198.92 L509.95 199.82 L509.49 200.71 L509.01 201.58 L508.52 202.45 L508 203.31 L507.47 204.16 L506.92 204.99 L506.35 205.82 L505.77 206.63 L505.17 207.43 L504.55 208.21 L503.91 208.99 L503.26 209.75 L502.6 210.49 L501.92 211.22 L501.22 211.94 L500.51 212.64 L499.78 213.33 L499.04 214 L498.29 214.66 L497.52 215.3 L496.74 215.92 L495.95 216.52 L495.14 217.07 L494.34 217.49 L493.56 217.68 L492.79 217.56 L492.05 217.16 L491.33 216.57 L490.62 215.9 L489.91 215.2 L489.2 214.49 L488.5 213.78 L487.79 213.08 L487.08 212.37 L486.37 211.67 L485.64 211 L484.89 210.4 L484.09 209.92 L483.21 209.62 L482.27 209.47 L481.3 209.42 L480.3 209.4 L479.3 209.4 L478.3 209.4 L477.3 209.4 L476.3 209.4 L475.3 209.4 L474.3 209.4 L473.3 209.4 L472.3 209.4 L471.3 209.4 L470.29 209.4 L469.29 209.4 L468.29 209.4 L467.29 209.4 L466.29 209.4 L465.29 209.4 L464.29 209.4 L463.29 209.4 L462.29 209.4 L461.29 209.4 L460.29 209.4 L459.29 209.4 L458.29 209.4 L457.29 209.4 L456.29 209.4 L455.28 209.4 L454.29 209.4 L453.29 209.42 L452.31 209.47 L451.38 209.62 L450.5 209.93 L449.7 210.4 L448.94 211.01 L448.22 211.68 L447.51 212.38 L446.8 213.09 L446.09 213.79 L445.39 214.5 L444.68 215.21 L443.97 215.91 L443.26 216.58 L442.54 217.17 L441.8 217.57 L441.03 217.68 L440.25 217.48 L439.44 217.06 L438.64 216.51 L437.85 215.92 L437.07 215.29 L436.3 214.65 L435.55 213.99 L434.81 213.32 L434.08 212.63 L433.37 211.93 L432.67 211.21 L431.99 210.48 L431.33 209.73 L430.68 208.97 L430.04 208.2 L429.42 207.42 L428.82 206.62 L428.24 205.8 L427.67 204.98 L427.12 204.15 L426.59 203.3 L426.08 202.44 L425.58 201.57 L425.1 200.69 L424.64 199.81 L424.2 198.91 L423.78 198 L423.38 197.09 L422.99 196.16 L422.63 195.23 L422.28 194.29 L421.96 193.35 L421.65 192.39 L421.37 191.44 L421.1 190.47 L420.86 189.5 L420.63 188.53 L420.43 187.55 L420.25 186.56 L420.08 185.58 L419.94 184.59 L419.82 183.6 L419.72 182.6 L419.64 181.6 L419.58 180.6 L419.55 179.61 L419.53 178.61 L419.53 177.61 L419.56 176.61 L419.6 175.61 L419.67 174.61 L419.76 173.61 L419.87 172.62 L420 171.63 L420.15 170.64 L420.32 169.65 L420.51 168.67 L420.72 167.69 L420.95 166.72 L421.2 165.75 L421.48 164.79 L421.77 163.83 L422.08 162.88 L422.42 161.94 L422.77 161.01 L423.14 160.08 L423.53 159.16 L423.94 158.24 L424.37 157.34 L424.82 156.45 L425.29 155.56 L425.77 154.69 L426.27 153.82 L426.79 152.97 L427.33 152.13 L427.89 151.3 L428.46 150.48 L429.06 149.67 L429.66 148.88 L430.29 148.1 L430.93 147.33 L431.58 146.57 L432.26 145.83 L432.94 145.11 L433.65 144.39 L434.36 143.7 L435.09 143.02 L435.84 142.35 L436.6 141.7 L437.37 141.06 L438.16 140.45 L438.95 139.86 L439.76 139.36 L440.56 139.01 L441.33 138.93 L442.09 139.16 L442.82 139.64 L443.53 140.27 L444.24 140.96 L444.95 141.67 L445.66 142.37 L446.37 143.08 L447.08 143.79 L447.79 144.49 L448.5 145.19 L449.23 145.84 L450 146.4 L450.83 146.81 L451.73 147.05 L452.69 147.16 L453.68 147.19 L454.67 147.2 L455.67 147.2 L456.68 147.2 L457.68 147.2 L458.68 147.2 L459.68 147.2 L460.68 147.2 L461.68 147.2 L462.68 147.2 L463.68 147.2 L464.68 147.2 L465.68 147.2 L466.68 147.2 L467.68 147.2 L468.68 147.2 L469.68 147.2 L470.68 147.2 L471.68 147.2 L472.69 147.2 L473.69 147.2 L474.69 147.2 L475.69 147.2 L476.69 147.2 L477.69 147.2 L478.69 147.2 L479.69 147.2 L480.69 147.19 L481.68 147.17 L482.64 147.08 L483.56 146.88 L484.41 146.51 L485.19 145.98 L485.93 145.34 L486.64 144.66 L487.35 143.95 L488.06 143.25 L488.77 142.54 L489.48 141.83 L490.19 141.13 L490.9 140.43 L491.61 139.78 L492.34 139.25 L493.09 138.95 Z" fill="none" stroke="#1c1c1c" stroke-width="1.2"/><line x1="467.3" y1="95" x2="467.3" y2="125.4" stroke="#1c1c1c" stroke-width="1.1"/><line x1="467.3" y1="261.6" x2="467.3" y2="231.2" stroke="#1c1c1c" stroke-width="1.1"/><line x1="550.6" y1="178.3" x2="520.2" y2="178.3" stroke="#1c1c1c" stroke-width="1.1"/><line x1="384" y1="178.3" x2="414.4" y2="178.3" stroke="#1c1c1c" stroke-width="1.1"/><line x1="384.2" y1="200" x2="384.2" y2="277.4" stroke="#bdbdbd" stroke-width="1.4"/><line x1="550.8" y1="200" x2="550.8" y2="277.4" stroke="#bdbdbd" stroke-width="1.4"/><line x1="385" y1="273.1" x2="550" y2="273.1" stroke="#bdbdbd" stroke-width="1.4"/><path d="M385 273.1 L393 270.8 L393 275.4 Z" fill="#bdbdbd"/><path d="M550 273.1 L542 275.4 L542 270.8 Z" fill="#bdbdbd"/><path d="M355.45 518.42 L439.18 488.39 A83.3 83.3 0 1 1 439.18 645.21 L355.45 615.18 A51.4 51.4 0 0 1 355.45 518.42 Z" fill="#fff" stroke="#1c1c1c" stroke-width="1.5"/><path d="M356.12 520.3 L439.86 490.27 A81.3 81.3 0 1 1 439.86 643.33 L356.12 613.3 A49.4 49.4 0 0 1 356.12 520.3 Z" fill="none" stroke="#1c1c1c" stroke-width="0.8"/><circle cx="467.3" cy="566.8" r="57.9" fill="none" stroke="#1c1c1c" stroke-width="1.2"/><circle cx="467.3" cy="566.8" r="52.9" fill="none" stroke="#1c1c1c" stroke-width="1.2"/><path d="M493.28 527.43 L494.06 527.51 L494.85 527.86 L495.66 528.37 L496.45 528.96 L497.24 529.57 L498.01 530.21 L498.77 530.86 L499.52 531.52 L500.25 532.21 L500.96 532.9 L501.67 533.62 L502.35 534.34 L503.03 535.08 L503.68 535.84 L504.32 536.61 L504.95 537.39 L505.55 538.18 L506.14 538.99 L506.72 539.81 L507.27 540.64 L507.81 541.48 L508.33 542.34 L508.84 543.2 L509.32 544.08 L509.79 544.96 L510.24 545.85 L510.67 546.76 L511.08 547.67 L511.47 548.59 L511.84 549.52 L512.19 550.45 L512.52 551.4 L512.83 552.35 L513.13 553.3 L513.4 554.27 L513.65 555.23 L513.88 556.21 L514.1 557.18 L514.29 558.17 L514.46 559.15 L514.61 560.14 L514.74 561.13 L514.84 562.13 L514.93 563.12 L515 564.12 L515.04 565.12 L515.07 566.12 L515.07 567.12 L515.05 568.12 L515.02 569.12 L514.96 570.12 L514.88 571.11 L514.78 572.11 L514.66 573.1 L514.51 574.09 L514.35 575.08 L514.17 576.06 L513.96 577.04 L513.74 578.02 L513.49 578.98 L513.23 579.95 L512.94 580.91 L512.64 581.86 L512.31 582.81 L511.97 583.74 L511.6 584.68 L511.22 585.6 L510.82 586.51 L510.39 587.42 L509.95 588.32 L509.49 589.21 L509.01 590.08 L508.52 590.95 L508 591.81 L507.47 592.66 L506.92 593.49 L506.35 594.32 L505.77 595.13 L505.17 595.93 L504.55 596.71 L503.91 597.49 L503.26 598.25 L502.6 598.99 L501.92 599.72 L501.22 600.44 L500.51 601.14 L499.78 601.83 L499.04 602.5 L498.29 603.16 L497.52 603.8 L496.74 604.42 L495.95 605.02 L495.14 605.57 L494.34 605.99 L493.56 606.18 L492.79 606.06 L492.05 605.66 L491.33 605.07 L490.62 604.4 L489.91 603.7 L489.2 602.99 L488.5 602.28 L487.79 601.58 L487.08 600.87 L486.37 600.17 L485.64 599.5 L484.89 598.9 L484.09 598.42 L483.21 598.12 L482.27 597.97 L481.3 597.92 L480.3 597.9 L479.3 597.9 L478.3 597.9 L477.3 597.9 L476.3 597.9 L475.3 597.9 L474.3 597.9 L473.3 597.9 L472.3 597.9 L471.3 597.9 L470.29 597.9 L469.29 597.9 L468.29 597.9 L467.29 597.9 L466.29 597.9 L465.29 597.9 L464.29 597.9 L463.29 597.9 L462.29 597.9 L461.29 597.9 L460.29 597.9 L459.29 597.9 L458.29 597.9 L457.29 597.9 L456.29 597.9 L455.28 597.9 L454.29 597.9 L453.29 597.92 L452.31 597.97 L451.38 598.12 L450.5 598.43 L449.7 598.9 L448.94 599.51 L448.22 600.18 L447.51 600.88 L446.8 601.59 L446.09 602.29 L445.39 603 L444.68 603.71 L443.97 604.41 L443.26 605.08 L442.54 605.67 L441.8 606.07 L441.03 606.18 L440.25 605.98 L439.44 605.56 L438.64 605.01 L437.85 604.42 L437.07 603.79 L436.3 603.15 L435.55 602.49 L434.81 601.82 L434.08 601.13 L433.37 600.43 L432.67 599.71 L431.99 598.98 L431.33 598.23 L430.68 597.47 L430.04 596.7 L429.42 595.92 L428.82 595.12 L428.24 594.3 L427.67 593.48 L427.12 592.65 L426.59 591.8 L426.08 590.94 L425.58 590.07 L425.1 589.19 L424.64 588.31 L424.2 587.41 L423.78 586.5 L423.38 585.59 L422.99 584.66 L422.63 583.73 L422.28 582.79 L421.96 581.85 L421.65 580.89 L421.37 579.94 L421.1 578.97 L420.86 578 L420.63 577.03 L420.43 576.05 L420.25 575.06 L420.08 574.08 L419.94 573.09 L419.82 572.1 L419.72 571.1 L419.64 570.1 L419.58 569.1 L419.55 568.11 L419.53 567.11 L419.53 566.11 L419.56 565.11 L419.6 564.11 L419.67 563.11 L419.76 562.11 L419.87 561.12 L420 560.13 L420.15 559.14 L420.32 558.15 L420.51 557.17 L420.72 556.19 L420.95 555.22 L421.2 554.25 L421.48 553.29 L421.77 552.33 L422.08 551.38 L422.42 550.44 L422.77 549.51 L423.14 548.58 L423.53 547.66 L423.94 546.74 L424.37 545.84 L424.82 544.95 L425.29 544.06 L425.77 543.19 L426.27 542.32 L426.79 541.47 L427.33 540.63 L427.89 539.8 L428.46 538.98 L429.06 538.17 L429.66 537.38 L430.29 536.6 L430.93 535.83 L431.58 535.07 L432.26 534.33 L432.94 533.61 L433.65 532.89 L434.36 532.2 L435.09 531.52 L435.84 530.85 L436.6 530.2 L437.37 529.56 L438.16 528.95 L438.95 528.36 L439.76 527.86 L440.56 527.51 L441.33 527.43 L442.09 527.66 L442.82 528.14 L443.53 528.77 L444.24 529.46 L444.95 530.17 L445.66 530.87 L446.37 531.58 L447.08 532.29 L447.79 532.99 L448.5 533.69 L449.23 534.34 L450 534.9 L450.83 535.31 L451.73 535.55 L452.69 535.66 L453.68 535.69 L454.67 535.7 L455.67 535.7 L456.68 535.7 L457.68 535.7 L458.68 535.7 L459.68 535.7 L460.68 535.7 L461.68 535.7 L462.68 535.7 L463.68 535.7 L464.68 535.7 L465.68 535.7 L466.68 535.7 L467.68 535.7 L468.68 535.7 L469.68 535.7 L470.68 535.7 L471.68 535.7 L472.69 535.7 L473.69 535.7 L474.69 535.7 L475.69 535.7 L476.69 535.7 L477.69 535.7 L478.69 535.7 L479.69 535.7 L480.69 535.69 L481.68 535.67 L482.64 535.58 L483.56 535.38 L484.41 535.01 L485.19 534.48 L485.93 533.84 L486.64 533.16 L487.35 532.45 L488.06 531.75 L488.77 531.04 L489.48 530.33 L490.19 529.63 L490.9 528.93 L491.61 528.28 L492.34 527.75 L493.09 527.45 Z" fill="none" stroke="#1c1c1c" stroke-width="1.2"/><line x1="467.3" y1="483.5" x2="467.3" y2="513.9" stroke="#1c1c1c" stroke-width="1.1"/><line x1="467.3" y1="650.1" x2="467.3" y2="619.7" stroke="#1c1c1c" stroke-width="1.1"/><line x1="550.6" y1="566.8" x2="520.2" y2="566.8" stroke="#1c1c1c" stroke-width="1.1"/><line x1="321.4" y1="566.8" x2="353" y2="566.8" stroke="#1c1c1c" stroke-width="1.2"/><line x1="373" y1="566.8" x2="414.4" y2="566.8" stroke="#1c1c1c" stroke-width="1.2"/><circle cx="363" cy="566.8" r="25.5" fill="none" stroke="#1c1c1c" stroke-width="1.1"/><circle cx="363" cy="566.8" r="23.8" fill="none" stroke="#1c1c1c" stroke-width="0.9"/><circle cx="363" cy="566.8" r="16.8" fill="none" stroke="#1c1c1c" stroke-width="1.1"/><circle cx="363" cy="566.8" r="10.1" fill="none" stroke="#1c1c1c" stroke-width="2.2"/><line x1="322" y1="591" x2="322" y2="668" stroke="#bdbdbd" stroke-width="1.4"/><line x1="550.8" y1="591" x2="550.8" y2="668" stroke="#bdbdbd" stroke-width="1.4"/><line x1="322.6" y1="664" x2="550.2" y2="664" stroke="#bdbdbd" stroke-width="1.4"/><path d="M322.6 664 L330.6 661.7 L330.6 666.3 Z" fill="#bdbdbd"/><path d="M550.2 664 L542.2 666.3 L542.2 661.7 Z" fill="#bdbdbd"/><line x1="491.5" y1="483.6" x2="569.5" y2="483.6" stroke="#bdbdbd" stroke-width="1.4"/><line x1="491.5" y1="650.2" x2="569.5" y2="650.2" stroke="#bdbdbd" stroke-width="1.4"/><line x1="565" y1="484.2" x2="565" y2="649.6" stroke="#bdbdbd" stroke-width="1.4"/><path d="M565 484.2 L567.3 492.2 L562.7 492.2 Z" fill="#bdbdbd"/><path d="M565 649.6 L562.7 641.6 L567.3 641.6 Z" fill="#bdbdbd"/><g fill="#1a1a1a" opacity="0.999"><text transform="translate(219.09 33.65) scale(0.9933 1)" font-size="25.31" stroke="#1a1a1a" stroke-width="1.10">C</text><text transform="translate(238.22 33.65) scale(1.1057 1)" font-size="25.31" stroke="#1a1a1a" stroke-width="1.10">O</text><text transform="translate(261.37 33.65) scale(1.0418 1)" font-size="25.31" stroke="#1a1a1a" stroke-width="1.10">N</text><text transform="translate(281.21 33.65) scale(1.0557 1)" font-size="25.31" stroke="#1a1a1a" stroke-width="1.10">C</text><text transform="translate(302.89 33.65) scale(0.7939 1)" font-size="25.31" stroke="#1a1a1a" stroke-width="1.10">E</text><text transform="translate(318.47 33.65) scale(1.1868 1)" font-size="25.31" stroke="#1a1a1a" stroke-width="1.10">A</text><text transform="translate(341.82 33.65) scale(1.0686 1)" font-size="25.31" stroke="#1a1a1a" stroke-width="1.10">L</text><text transform="translate(358.74 33.65) scale(0.8667 1)" font-size="25.31" stroke="#1a1a1a" stroke-width="1.10">E</text><text transform="translate(376.84 33.65) scale(1.0603 1)" font-size="25.31" stroke="#1a1a1a" stroke-width="1.10">D</text><text transform="translate(405.47 33.65) scale(0.9943 1)" font-size="25.31" stroke="#1a1a1a" stroke-width="1.10">B</text><text transform="translate(423.47 33.65) scale(1.1868 1)" font-size="25.31" stroke="#1a1a1a" stroke-width="1.10">A</text><text transform="translate(445.97 33.65) scale(0.8589 1)" font-size="25.31" stroke="#1a1a1a" stroke-width="1.10">S</text><text transform="translate(463.19 33.65) scale(0.9395 1)" font-size="25.31" stroke="#1a1a1a" stroke-width="1.10">E</text><text transform="translate(219.09 397.45) scale(1.0349 1)" font-size="24.29" stroke="#1a1a1a" stroke-width="1.10">C</text><text transform="translate(238.22 397.45) scale(1.1521 1)" font-size="24.29" stroke="#1a1a1a" stroke-width="1.10">O</text><text transform="translate(261.37 397.45) scale(1.0855 1)" font-size="24.29" stroke="#1a1a1a" stroke-width="1.10">N</text><text transform="translate(281.21 397.45) scale(1.1000 1)" font-size="24.29" stroke="#1a1a1a" stroke-width="1.10">C</text><text transform="translate(302.89 397.45) scale(0.8271 1)" font-size="24.29" stroke="#1a1a1a" stroke-width="1.10">E</text><text transform="translate(318.47 397.45) scale(1.2366 1)" font-size="24.29" stroke="#1a1a1a" stroke-width="1.10">A</text><text transform="translate(341.82 397.45) scale(1.1134 1)" font-size="24.29" stroke="#1a1a1a" stroke-width="1.10">L</text><text transform="translate(358.74 397.45) scale(0.9030 1)" font-size="24.29" stroke="#1a1a1a" stroke-width="1.10">E</text><text transform="translate(376.84 397.45) scale(1.1048 1)" font-size="24.29" stroke="#1a1a1a" stroke-width="1.10">D</text><text transform="translate(405.47 397.45) scale(1.0360 1)" font-size="24.29" stroke="#1a1a1a" stroke-width="1.10">B</text><text transform="translate(423.47 397.45) scale(1.2366 1)" font-size="24.29" stroke="#1a1a1a" stroke-width="1.10">A</text><text transform="translate(445.97 397.45) scale(0.8949 1)" font-size="24.29" stroke="#1a1a1a" stroke-width="1.10">S</text><text transform="translate(463.19 397.45) scale(0.9789 1)" font-size="24.29" stroke="#1a1a1a" stroke-width="1.10">E</text><rect x="218.6" y="412.6" width="7.8" height="3.3" fill="#1a1a1a"/><text transform="translate(237.00 421.45) scale(1.0128 1)" font-size="24.29" stroke="#1a1a1a" stroke-width="1.10">T</text><text transform="translate(254.49 421.45) scale(1.0264 1)" font-size="24.29" stroke="#1a1a1a" stroke-width="1.10">H</text><text transform="translate(274.48 421.45) scale(1.0353 1)" font-size="24.29" stroke="#1a1a1a" stroke-width="1.10">R</text><text transform="translate(294.80 421.45) scale(1.0797 1)" font-size="24.29" stroke="#1a1a1a" stroke-width="1.10">O</text><text transform="translate(316.63 421.45) scale(1.0736 1)" font-size="24.29" stroke="#1a1a1a" stroke-width="1.10">U</text><text transform="translate(337.55 421.45) scale(1.0663 1)" font-size="24.29" stroke="#1a1a1a" stroke-width="1.10">G</text><text transform="translate(358.99 421.45) scale(1.0264 1)" font-size="24.29" stroke="#1a1a1a" stroke-width="1.10">H</text><text transform="translate(387.21 421.45) scale(1.1000 1)" font-size="24.29" stroke="#1a1a1a" stroke-width="1.10">C</text><text transform="translate(407.48 421.45) scale(1.1123 1)" font-size="24.29" stroke="#1a1a1a" stroke-width="1.10">A</text><text transform="translate(429.13 421.45) scale(0.9586 1)" font-size="24.29" stroke="#1a1a1a" stroke-width="1.10">B</text><text transform="translate(447.91 421.45) scale(1.0666 1)" font-size="24.29" stroke="#1a1a1a" stroke-width="1.10">L</text><text transform="translate(465.85 421.45) scale(0.8499 1)" font-size="24.29" stroke="#1a1a1a" stroke-width="1.10">E</text><text transform="translate(198.51 71.72) scale(0.8891 1)" font-size="14.18" stroke="#1a1a1a" stroke-width="0.15">S</text><text transform="translate(207.81 71.72) scale(0.8760 1)" font-size="14.18" stroke="#1a1a1a" stroke-width="0.15">U</text><text transform="translate(217.83 71.72) scale(1.1816 1)" font-size="14.18" stroke="#1a1a1a" stroke-width="0.15">I</text><text transform="translate(223.07 71.72) scale(0.9423 1)" font-size="14.18" stroke="#1a1a1a" stroke-width="0.15">T</text><text transform="translate(231.16 71.72) scale(0.9627 1)" font-size="14.18" stroke="#1a1a1a" stroke-width="0.15">S</text><text transform="translate(244.52 71.72) scale(1.0722 1)" font-size="14.18" stroke="#1a1a1a" stroke-width="0.15">M</text><text transform="translate(257.24 71.72) scale(0.9426 1)" font-size="14.18" stroke="#1a1a1a" stroke-width="0.15">5</text><text transform="translate(269.79 71.72) scale(1.0177 1)" font-size="14.18" stroke="#1a1a1a" stroke-width="0.15">O</text><text transform="translate(282.01 71.72) scale(0.9104 1)" font-size="14.18" stroke="#1a1a1a" stroke-width="0.15">R</text><text transform="translate(301.09 71.72) scale(1.2035 1)" font-size="14.18" stroke="#1a1a1a" stroke-width="0.15">0</text><text transform="translate(311.36 71.72) scale(1.0104 1)" font-size="14.18" stroke="#1a1a1a" stroke-width="0.15">G</text><path d="M296.9 64 L299.4 62.2 L299.4 71.8" fill="none" stroke="#1a1a1a" stroke-width="1.25" stroke-linejoin="miter"/><text transform="translate(199.18 85.92) scale(0.8369 1)" font-size="14.47" stroke="#1a1a1a" stroke-width="0.15">P</text><text transform="translate(208.74 85.92) scale(1.0273 1)" font-size="14.47" stroke="#1a1a1a" stroke-width="0.15">A</text><text transform="translate(219.52 85.92) scale(1.0473 1)" font-size="14.47" stroke="#1a1a1a" stroke-width="0.15">N</text><text transform="translate(234.57 85.92) scale(1.0101 1)" font-size="14.47" stroke="#1a1a1a" stroke-width="0.15">H</text><text transform="translate(245.27 85.92) scale(0.9234 1)" font-size="14.47" stroke="#1a1a1a" stroke-width="0.15">E</text><text transform="translate(255.14 85.92) scale(1.0273 1)" font-size="14.47" stroke="#1a1a1a" stroke-width="0.15">A</text><text transform="translate(266.17 85.92) scale(0.9271 1)" font-size="14.47" stroke="#1a1a1a" stroke-width="0.15">D</text><text transform="translate(281.21 85.92) scale(0.8712 1)" font-size="14.47" stroke="#1a1a1a" stroke-width="0.15">S</text><text transform="translate(290.48 85.92) scale(0.9559 1)" font-size="14.47" stroke="#1a1a1a" stroke-width="0.15">C</text><text transform="translate(300.72 85.92) scale(0.8805 1)" font-size="14.47" stroke="#1a1a1a" stroke-width="0.15">R</text><text transform="translate(311.02 85.92) scale(0.8852 1)" font-size="14.47" stroke="#1a1a1a" stroke-width="0.15">E</text><text transform="translate(320.90 85.92) scale(1.0604 1)" font-size="14.47" stroke="#1a1a1a" stroke-width="0.15">W</text><text transform="translate(335.81 85.92) scale(0.8712 1)" font-size="14.47" stroke="#1a1a1a" stroke-width="0.15">S</text><text transform="translate(198.51 461.03) scale(0.8891 1)" font-size="14.18" stroke="#1a1a1a" stroke-width="0.15">S</text><text transform="translate(207.81 461.03) scale(0.8760 1)" font-size="14.18" stroke="#1a1a1a" stroke-width="0.15">U</text><text transform="translate(217.83 461.03) scale(1.1816 1)" font-size="14.18" stroke="#1a1a1a" stroke-width="0.15">I</text><text transform="translate(223.07 461.03) scale(0.9423 1)" font-size="14.18" stroke="#1a1a1a" stroke-width="0.15">T</text><text transform="translate(231.16 461.03) scale(0.9627 1)" font-size="14.18" stroke="#1a1a1a" stroke-width="0.15">S</text><text transform="translate(244.52 461.03) scale(1.0722 1)" font-size="14.18" stroke="#1a1a1a" stroke-width="0.15">M</text><text transform="translate(257.24 461.03) scale(0.9426 1)" font-size="14.18" stroke="#1a1a1a" stroke-width="0.15">5</text><text transform="translate(269.79 461.03) scale(1.0177 1)" font-size="14.18" stroke="#1a1a1a" stroke-width="0.15">O</text><text transform="translate(282.01 461.03) scale(0.9104 1)" font-size="14.18" stroke="#1a1a1a" stroke-width="0.15">R</text><text transform="translate(301.09 461.03) scale(1.2035 1)" font-size="14.18" stroke="#1a1a1a" stroke-width="0.15">0</text><text transform="translate(311.36 461.03) scale(1.0104 1)" font-size="14.18" stroke="#1a1a1a" stroke-width="0.15">G</text><path d="M296.9 453.3 L299.4 451.5 L299.4 461.1" fill="none" stroke="#1a1a1a" stroke-width="1.25" stroke-linejoin="miter"/><text transform="translate(199.18 475.23) scale(0.8369 1)" font-size="14.47" stroke="#1a1a1a" stroke-width="0.15">P</text><text transform="translate(208.74 475.23) scale(1.0273 1)" font-size="14.47" stroke="#1a1a1a" stroke-width="0.15">A</text><text transform="translate(219.52 475.23) scale(1.0473 1)" font-size="14.47" stroke="#1a1a1a" stroke-width="0.15">N</text><text transform="translate(234.57 475.23) scale(1.0101 1)" font-size="14.47" stroke="#1a1a1a" stroke-width="0.15">H</text><text transform="translate(245.27 475.23) scale(0.9234 1)" font-size="14.47" stroke="#1a1a1a" stroke-width="0.15">E</text><text transform="translate(255.14 475.23) scale(1.0273 1)" font-size="14.47" stroke="#1a1a1a" stroke-width="0.15">A</text><text transform="translate(266.17 475.23) scale(0.9271 1)" font-size="14.47" stroke="#1a1a1a" stroke-width="0.15">D</text><text transform="translate(281.21 475.23) scale(0.8712 1)" font-size="14.47" stroke="#1a1a1a" stroke-width="0.15">S</text><text transform="translate(290.48 475.23) scale(0.9559 1)" font-size="14.47" stroke="#1a1a1a" stroke-width="0.15">C</text><text transform="translate(300.72 475.23) scale(0.8805 1)" font-size="14.47" stroke="#1a1a1a" stroke-width="0.15">R</text><text transform="translate(311.02 475.23) scale(0.8852 1)" font-size="14.47" stroke="#1a1a1a" stroke-width="0.15">E</text><text transform="translate(320.90 475.23) scale(1.0604 1)" font-size="14.47" stroke="#1a1a1a" stroke-width="0.15">W</text><text transform="translate(335.81 475.23) scale(0.8712 1)" font-size="14.47" stroke="#1a1a1a" stroke-width="0.15">S</text><text transform="translate(185.76 289.12) scale(0.9471 1)" font-size="15.20" stroke="#1a1a1a" stroke-width="0.15">2</text><text transform="translate(194.74 289.12) scale(1.0171 1)" font-size="15.20" stroke="#1a1a1a" stroke-width="0.15">9</text><g transform="rotate(-90)"><text transform="translate(-191.57 119.02) scale(0.9223 1)" font-size="15.64" stroke="#1a1a1a" stroke-width="0.15">3</text><text transform="translate(-183.07 119.02) scale(0.9472 1)" font-size="15.64" stroke="#1a1a1a" stroke-width="0.15">6</text><text transform="translate(-174.94 119.02) scale(0.9088 1)" font-size="15.64" stroke="#1a1a1a" stroke-width="0.15">.</text><text transform="translate(-170.60 119.02) scale(0.9887 1)" font-size="15.64" stroke="#1a1a1a" stroke-width="0.15">6</text></g><text transform="translate(185.76 678.72) scale(0.9471 1)" font-size="15.20" stroke="#1a1a1a" stroke-width="0.15">2</text><text transform="translate(194.74 678.72) scale(1.0171 1)" font-size="15.20" stroke="#1a1a1a" stroke-width="0.15">9</text><g transform="rotate(-90)"><text transform="translate(-581.17 119.02) scale(0.9223 1)" font-size="15.64" stroke="#1a1a1a" stroke-width="0.15">3</text><text transform="translate(-572.67 119.02) scale(0.9472 1)" font-size="15.64" stroke="#1a1a1a" stroke-width="0.15">6</text><text transform="translate(-564.54 119.02) scale(0.9088 1)" font-size="15.64" stroke="#1a1a1a" stroke-width="0.15">.</text><text transform="translate(-560.20 119.02) scale(0.9887 1)" font-size="15.64" stroke="#1a1a1a" stroke-width="0.15">6</text></g><text transform="translate(450.55 288.93) scale(0.9654 1)" font-size="14.47" stroke="#1a1a1a" stroke-width="0.15">Ø</text><text transform="translate(462.74 288.93) scale(1.0330 1)" font-size="14.47" stroke="#1a1a1a" stroke-width="0.15">4</text><text transform="translate(471.77 288.93) scale(1.2227 1)" font-size="14.47" stroke="#1a1a1a" stroke-width="0.15">0</text><text transform="translate(427.50 678.52) scale(0.9768 1)" font-size="14.76" stroke="#1a1a1a" stroke-width="0.15">5</text><text transform="translate(436.28 678.52) scale(1.0053 1)" font-size="14.76" stroke="#1a1a1a" stroke-width="0.15">5</text><g transform="rotate(-90)"><text transform="translate(-582.46 580.32) scale(0.9752 1)" font-size="14.62" stroke="#1a1a1a" stroke-width="0.15">Ø</text><text transform="translate(-569.94 580.32) scale(0.9550 1)" font-size="14.62" stroke="#1a1a1a" stroke-width="0.15">4</text><text transform="translate(-561.02 580.32) scale(1.1819 1)" font-size="14.62" stroke="#1a1a1a" stroke-width="0.15">0</text></g></g>
</svg>
</body></html>
